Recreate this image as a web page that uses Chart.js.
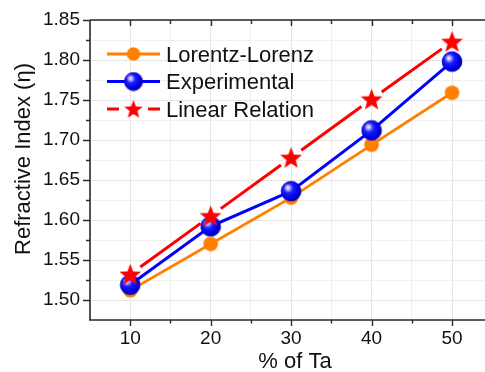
<!DOCTYPE html>
<html><head><meta charset="utf-8">
<script src="https://cdn.jsdelivr.net/npm/chart.js@4/dist/chart.umd.min.js"></script>
<style>html,body{margin:0;padding:0;background:#fff;overflow:hidden}#wrap{width:485px;height:372px;position:relative}canvas{display:block}</style>
</head><body><div id="wrap"><canvas id="c"></canvas></div>
<script>
// ---- data ----
const taPercent = [10, 20, 30, 40, 50];
const lorentzLorenz = [1.512, 1.570, 1.628, 1.694, 1.759];
const experimental = [1.519, 1.592, 1.636, 1.712, 1.798];
const linearRelation = [1.532, 1.605, 1.678, 1.751, 1.823];
const seriesNames = ['Lorentz-Lorenz', 'Experimental', 'Linear Relation'];
const xTitle = '% of Ta';
const yTitle = 'Refractive Index (\u03b7)';

const FONT = '"Liberation Sans", Arial, sans-serif';
const ORANGE = '#ff8000', BLUE = '#0000ff', RED = '#ff0000';

function mk(w, h) { const c = document.createElement('canvas'); c.width = w; c.height = h; return c; }
function circleImg(r, color) {
  const s = Math.ceil(r * 2 + 2), c = mk(s, s), g = c.getContext('2d');
  g.fillStyle = color; g.beginPath(); g.arc(s / 2, s / 2, r, 0, Math.PI * 2); g.fill();
  return c;
}
function sphereImg(r) {
  const s = Math.ceil(r * 2 + 2), c = mk(s, s), g = c.getContext('2d');
  const cx = s / 2, cy = s / 2;
  const gr = g.createRadialGradient(cx - r * 0.35, cy - r * 0.38, 0, cx - r * 0.2, cy - r * 0.2, r * 1.15);
  gr.addColorStop(0, '#ffffff'); gr.addColorStop(0.18, '#b0b0ff'); gr.addColorStop(0.42, '#2020ff');
  gr.addColorStop(0.8, '#0000ee'); gr.addColorStop(1, '#0000b0');
  g.fillStyle = gr; g.beginPath(); g.arc(cx, cy, r, 0, Math.PI * 2); g.fill();
  g.strokeStyle = '#0000c0'; g.lineWidth = 1; g.stroke();
  return c;
}
function starImg(r, color) {
  const s = Math.ceil(r * 2 + 2), c = mk(s, s), g = c.getContext('2d');
  const cx = s / 2, cy = s / 2 + r * 0.08, ri = r * 0.42;
  g.fillStyle = color; g.beginPath();
  for (let i = 0; i < 10; i++) {
    const a = -Math.PI / 2 + i * Math.PI / 5, rr = i % 2 ? ri : r;
    const px = cx + rr * Math.cos(a), py = cy + rr * Math.sin(a);
    i ? g.lineTo(px, py) : g.moveTo(px, py);
  }
  g.closePath(); g.fill();
  return c;
}
const mOrange = circleImg(7.3, ORANGE), mBlue = sphereImg(9.8), mStar = starImg(11.5, RED);
const lOrange = circleImg(6.7, ORANGE), lBlue = sphereImg(9), lStar = starImg(9.8, RED);

const pts = ys => taPercent.map((x, i) => ({ x, y: ys[i] }));

const axesPlugin = {
  id: 'axesFrame',
  beforeDatasetsDraw(chart) {
    const { ctx, chartArea: a, scales: { x, y } } = chart;
    ctx.save();
    ctx.strokeStyle = '#2a2a2a'; ctx.lineWidth = 1.6; ctx.lineCap = 'butt';
    ctx.beginPath();
    ctx.moveTo(a.left, a.top); ctx.lineTo(a.right, a.top);
    ctx.moveTo(a.left, a.top); ctx.lineTo(a.left, a.bottom);
    ctx.moveTo(a.left - 1, a.bottom); ctx.lineTo(a.right, a.bottom);
    ctx.stroke();
    ctx.lineWidth = 1.4;
    ctx.beginPath();
    for (let v = 10; v <= 50; v += 5) {
      const px = Math.round(x.getPixelForValue(v)) + 0.5, major = v % 10 === 0;
      ctx.moveTo(px, a.bottom); ctx.lineTo(px, a.bottom + (major ? 6 : 3.5));
      ctx.moveTo(px, a.top); ctx.lineTo(px, a.top + (major ? 6 : 4));
    }
    for (let k = 60; k <= 74; k++) {
      const v = k * 0.025, py = Math.round(y.getPixelForValue(v)) + 0.5, major = k % 2 === 0;
      ctx.moveTo(a.left, py); ctx.lineTo(a.left - (major ? 7 : 4), py);
    }
    ctx.stroke();
    // axis titles
    ctx.fillStyle = '#111'; ctx.font = '22px ' + FONT; ctx.textBaseline = 'alphabetic';
    ctx.textAlign = 'center';
    ctx.fillText(xTitle, 295, 367.5);
    ctx.translate(30, 159); ctx.rotate(-Math.PI / 2);
    ctx.fillText(yTitle, 0, 0);
    ctx.restore();
  },
  afterDraw(chart) {
    const ctx = chart.ctx;
    const rows = [
      { y: 54, color: ORANGE, img: lOrange, dash: false },
      { y: 81.5, color: BLUE, img: lBlue, dash: false },
      { y: 109, color: RED, img: lStar, dash: true }
    ];
    ctx.save();
    rows.forEach((r, i) => {
      ctx.strokeStyle = r.color; ctx.lineWidth = 3; ctx.beginPath();
      if (r.dash) {
        ctx.moveTo(107, r.y); ctx.lineTo(119, r.y);
        ctx.moveTo(148, r.y); ctx.lineTo(160, r.y);
      } else { ctx.moveTo(107, r.y); ctx.lineTo(160, r.y); }
      ctx.stroke();
      ctx.drawImage(r.img, 133.5 - r.img.width / 2, r.y - r.img.height / 2);
      ctx.fillStyle = '#111'; ctx.font = '22px ' + FONT; ctx.textAlign = 'left'; ctx.textBaseline = 'alphabetic';
      ctx.fillText(seriesNames[i], 166, r.y + 7.8);
    });
    ctx.restore();
  }
};

new Chart(document.getElementById('c'), {
  type: 'line',
  data: {
    datasets: [
      { label: seriesNames[0], data: pts(lorentzLorenz), borderColor: ORANGE, borderWidth: 2.8,
        pointStyle: mOrange, order: 2 },
      { label: seriesNames[1], data: pts(experimental), borderColor: BLUE, borderWidth: 3,
        pointStyle: mBlue, order: 1 },
      { label: seriesNames[2], data: pts(linearRelation), borderColor: RED, borderWidth: 3,
        pointStyle: mStar, order: 0,
        segment: {
          borderDash: c => {
            const L = Math.hypot(c.p1.x - c.p0.x, c.p1.y - c.p0.y), g = 12.5;
            return [0, g, Math.max(L - 2 * g, 0), 2000 + c.p0DataIndex];
          }
        } }
    ]
  },
  options: {
    responsive: true, maintainAspectRatio: false, animation: false,
    layout: { autoPadding: false, padding: { top: 20, right: 0, left: 0, bottom: 0 } },
    elements: { line: { tension: 0, fill: false }, point: { radius: 8, hoverRadius: 8 } },
    plugins: { legend: { display: false }, tooltip: { enabled: false } },
    scales: {
      x: {
        type: 'linear', min: 5, max: 54.1,
        afterFit: s => { s.height = 52; s.paddingLeft = 0; s.paddingRight = 0; },
        border: { display: false },
        grid: { color: c => (c.tick && c.tick.value % 10 === 0 ? '#e4e4e4' : '#f0f0f0'), tickColor: 'rgba(0,0,0,0)', tickLength: 6, lineWidth: 1 },
        ticks: {
          stepSize: 5, includeBounds: false, padding: 1, maxRotation: 0, autoSkip: false,
          color: '#111', font: { family: FONT, size: 19 },
          callback: v => (v % 10 === 0 && v >= 10 ? String(v) : '')
        }
      },
      y: {
        type: 'linear', min: 1.475, max: 1.85,
        afterFit: s => { s.width = 90; s.paddingTop = 0; s.paddingBottom = 0; },
        border: { display: false },
        grid: { color: c => (c.tick && Math.round(c.tick.value * 1000) % 50 === 0 ? '#e4e4e4' : '#f0f0f0'), tickColor: 'rgba(0,0,0,0)', tickLength: 7, lineWidth: 1 },
        ticks: {
          stepSize: 0.025, padding: 3, autoSkip: false,
          color: '#111', font: { family: FONT, size: 19 },
          callback: v => { const m = Math.round(v * 1000); return (m % 50 === 0 && m >= 1500) ? (m / 1000).toFixed(2) : ''; }
        }
      }
    }
  },
  plugins: [axesPlugin]
});
</script>
</body></html>
